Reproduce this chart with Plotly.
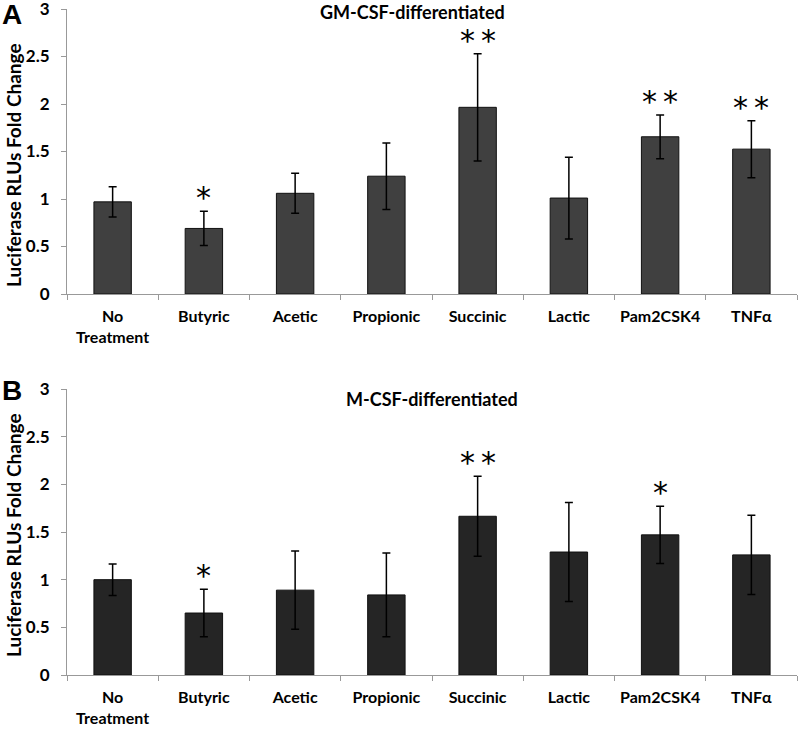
import plotly.graph_objects as go
from plotly.subplots import make_subplots

treatments = ["No<br>Treatment", "Butyric", "Acetic", "Propionic", "Succinic",
              "Lactic", "Pam2CSK4", "TNFα"]

gm_mean = [0.97, 0.69, 1.06, 1.24, 1.965, 1.01, 1.655, 1.525]
gm_err = [0.16, 0.18, 0.21, 0.35, 0.565, 0.43, 0.23, 0.30]
gm_stars = ["", "*", "", "", "**", "", "**", "**"]

m_mean = [1.00, 0.65, 0.89, 0.84, 1.665, 1.29, 1.47, 1.26]
m_err = [0.165, 0.25, 0.41, 0.44, 0.42, 0.52, 0.30, 0.415]
m_stars = ["", "*", "", "", "**", "", "*", ""]

yticks = [0, 0.5, 1, 1.5, 2, 2.5, 3]
ytick_labels = ["0", "0.5", "1", "1.5", "2", "2.5", "3"]

W, H = 800, 731
FONT = "Lato"


def py(px):
    return 1 - px / H


fig = make_subplots(rows=2, cols=1)

panels = [
    (1, gm_mean, gm_err, gm_stars, "#404040"),
    (2, m_mean, m_err, m_stars, "#252525"),
]
for row, mean, err, stars, col in panels:
    fig.add_trace(go.Bar(
        x=treatments, y=mean, width=0.41,
        marker=dict(color=col, line=dict(color="#111111", width=1)),
        error_y=dict(type="data", array=err, visible=True, color="black",
                     thickness=1.5, width=4),
        hoverinfo="skip", showlegend=False), row=row, col=1)
    for cat, m, e, s in zip(treatments, mean, err, stars):
        if s:
            fig.add_annotation(x=cat, y=m + e, text=s.replace("**", "*\u2009*"),
                               showarrow=False, yanchor="bottom", yshift=-6,
                               font=dict(family="DejaVu Sans", size=30, color="black"),
                               xref="x" if row == 1 else "x2",
                               yref="y" if row == 1 else "y2")

axis_font = dict(family=FONT, size=16, color="black", weight="bold")
for row in (1, 2):
    fig.update_xaxes(row=row, col=1, showline=True, linecolor="#999999", linewidth=1,
                     ticks="outside", tickson="boundaries", ticklen=5, tickcolor="#999999",
                     tickfont=axis_font, showgrid=False, ticklabelstandoff=8,
                     automargin=False)
    fig.update_yaxes(row=row, col=1, range=[0, 3], tickvals=yticks, ticktext=ytick_labels,
                     showline=True, linecolor="#999999", linewidth=1,
                     ticks="outside", ticklen=5, tickcolor="#999999",
                     tickfont=dict(family=FONT, size=17, color="black", weight="bold"),
                     showgrid=False, zeroline=False, ticklabeloverflow="allow",
                     ticklabelstandoff=8, automargin=False)

fig.update_layout(
    width=W, height=H,
    margin=dict(l=67, r=3, t=0, b=0, autoexpand=False),
    plot_bgcolor="white", paper_bgcolor="white",
    font=dict(family=FONT, color="black"),
    xaxis=dict(domain=[0, 1]),
    xaxis2=dict(domain=[0, 1]),
    yaxis=dict(domain=[py(294), py(9)]),
    yaxis2=dict(domain=[py(675), py(389)]),
)

title_font = dict(family=FONT, size=18, color="black", weight="bold")
fig.add_annotation(text="GM-CSF-differentiated", x=(412 - 67) / 730, y=py(12),
                   xref="paper", yref="paper", showarrow=False, font=title_font,
                   xanchor="center", yanchor="middle")
fig.add_annotation(text="M-CSF-differentiated", x=0.5, y=py(399),
                   xref="paper", yref="paper", showarrow=False, font=title_font,
                   xanchor="center", yanchor="middle")

ytitle_font = dict(family=FONT, size=19, color="black", weight="bold")
for cy in (165, 535):
    fig.add_annotation(text="Luciferase RLUs Fold Change", textangle=-90,
                       x=(13 - 67) / 730, y=py(cy), xref="paper", yref="paper",
                       xanchor="center", yanchor="middle",
                       showarrow=False, font=ytitle_font)

letter_font = dict(family="Liberation Sans", size=28, color="black", weight="bold")
fig.add_annotation(text="A", x=(12 - 67) / 730, y=py(14), xref="paper", yref="paper",
                   xanchor="center", yanchor="middle",
                   showarrow=False, font=letter_font)
fig.add_annotation(text="B", x=(12 - 67) / 730, y=py(391), xref="paper", yref="paper",
                   xanchor="center", yanchor="middle",
                   showarrow=False, font=letter_font)

fig.write_html("out.html", config={"displayModeBar": False},
               post_script="document.body.style.margin='0';")
